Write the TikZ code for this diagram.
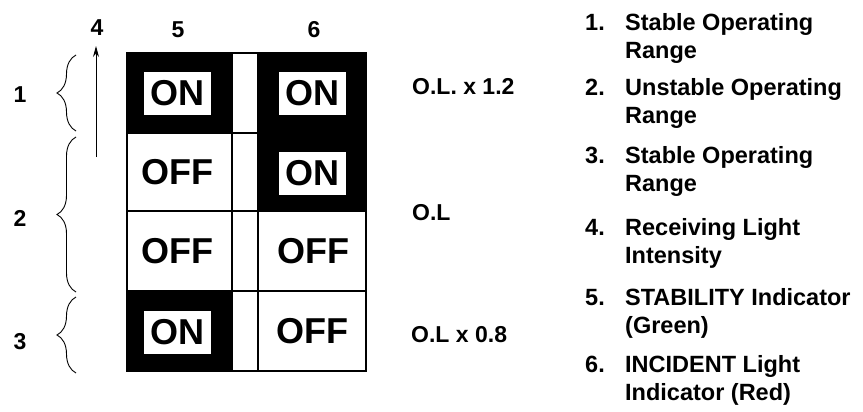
\documentclass[tikz,border=0pt]{standalone}
\usepackage{fontspec}
\setmainfont{Liberation Sans}
\usetikzlibrary{arrows.meta,decorations.pathreplacing,positioning}
\newcommand{\legnum}[1]{\makebox[40pt][l]{#1}}
\begin{document}
\begin{tikzpicture}[>={Stealth[length=11pt,width=6pt]},x=1pt,y=-1pt,
    onbox/.style={fill=white,minimum width=67pt,minimum height=43pt,inner sep=0pt,font=\fontsize{36}{40}\selectfont\bfseries},
    offtxt/.style={inner sep=0pt,font=\fontsize{36}{40}\selectfont\bfseries},
    lbl/.style={inner sep=0pt,font=\fontsize{23}{26}\selectfont\bfseries},
    leg/.style={inner sep=0pt,anchor=north west,align=left,font=\fontsize{23.5}{28.5}\selectfont\bfseries},
    brc/.style={decorate,decoration={brace,amplitude=19pt},line width=.9pt}]
    \useasboundingbox (0,0) rectangle (863,412);
    \fill (127,53) rectangle (232,133);
    \fill (258,53) rectangle (366,211);
    \fill (127,291) rectangle (232,371);
    \draw[line width=1.2pt] (127,53) rectangle (366,371);
    \foreach \y in {133,211,291} \draw[line width=1.2pt] (127,\y) -- (366,\y);
    \foreach \x in {232,258} \draw[line width=1.2pt] (\x,53) -- (\x,371);
    \node[onbox] (on1) at (177,93.5) {ON};
    \node[onbox] (on2) at (312.5,93.5) {ON};
    \node[onbox] (on3) at (312.5,173.5) {ON};
    \node[onbox] (on4) at (177,332) {ON};
    \node[offtxt] (off1) at (177,172) {OFF};
    \node[offtxt] (off2) at (177,251) {OFF};
    \node[offtxt] (off3) at (313,251) {OFF};
    \node[offtxt] (off4) at (312,331) {OFF};
    \node[lbl] (n4) at (97,28) {4}; \node[lbl] (n5) at (178,30) {5}; \node[lbl] (n6) at (314,30) {6};
    \node[lbl] (r1) at (20,95) {1}; \node[lbl] (r2) at (20,218) {2}; \node[lbl] (r3) at (20,342) {3};
    \coordinate (a0) at (96,157); \coordinate (a1) at (96,46);
    \draw[->,line width=1pt] (a0) -- (a1);
    \coordinate (b1s) at (76,131); \coordinate (b1e) at (76,55);
    \coordinate (b2s) at (76,292); \coordinate (b2e) at (76,137);
    \coordinate (b3s) at (76,373); \coordinate (b3e) at (76,297);
    \draw[brc] (b1s) -- (b1e); \draw[brc] (b2s) -- (b2e); \draw[brc] (b3s) -- (b3e);
    \node[lbl,anchor=west] (ol1) at (412,87) {O.L. x 1.2};
    \node[lbl,anchor=west] (ol2) at (412,213) {O.L};
    \node[lbl,anchor=west] (ol3) at (411,335) {O.L x 0.8};
    \node[leg] (l1) at (585,13) {\legnum{1.}Stable Operating\\\legnum{}Range};
    \node[leg] (l2) at (585,78) {\legnum{2.}Unstable Operating\\\legnum{}Range};
    \node[leg] (l3) at (585,146) {\legnum{3.}Stable Operating\\\legnum{}Range};
    \node[leg] (l4) at (585,218) {\legnum{4.}Receiving Light\\\legnum{}Intensity};
    \node[leg] (l5) at (585,288) {\legnum{5.}STABILITY Indicator\\\legnum{}(Green)};
    \node[leg] (l6) at (585,355) {\legnum{6.}INCIDENT Light\\\legnum{}Indicator (Red)};
\end{tikzpicture}
\end{document}
